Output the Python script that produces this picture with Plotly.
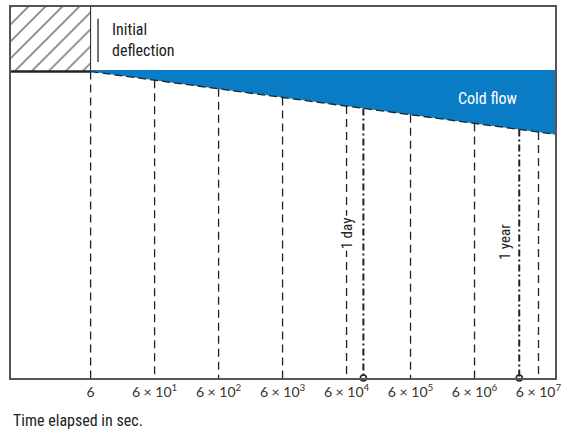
import numpy as np
import plotly.graph_objects as go

# ---- data ----
tick_values = [6, 6e1, 6e2, 6e3, 6e4, 6e5, 6e6, 6e7]
tick_labels = ["6", "6 × 10<sup>1</sup>", "6 × 10<sup>2</sup>", "6 × 10<sup>3</sup>",
               "6 × 10<sup>4</sup>", "6 × 10<sup>5</sup>", "6 × 10<sup>6</sup>", "6 × 10<sup>7</sup>"]
x_range_log = [-0.466, 8.036]          # axis range, log10 seconds
initial_deflection = 82.6               # level of initial deflection (arbitrary units, top = 100)
flow_time = [6, 10 ** 8.036]            # cold-flow band extent
flow_top = [83.0, 83.0]
flow_bottom = [82.6, 65.7]
event_times = [1.1e5, 3.0e7]            # 1 day, 1 year (as drawn)
event_labels = ["1 day", "1 year"]

FONT = "Liberation Sans Narrow, Roboto Condensed, DejaVu Sans Condensed, Arial, sans-serif"
BLUE = "#0a7cc6"
INK = "#222222"

def top_at(t):
    return np.interp(np.log10(t), np.log10(flow_time), flow_bottom)

fig = go.Figure()

x_left = 10 ** x_range_log[0]
# hatched initial-deflection block
fig.add_trace(go.Scatter(
    x=[x_left, tick_values[0], tick_values[0], x_left, x_left],
    y=[initial_deflection, initial_deflection, 100, 100, initial_deflection],
    mode="lines", fill="toself", fillcolor="rgba(0,0,0,0)",
    fillpattern=dict(shape="/", fgcolor="#1a1a1a", bgcolor="white", size=12, solidity=0.16),
    line=dict(width=0), hoverinfo="skip", showlegend=False))
fig.add_trace(go.Scatter(x=[tick_values[0], tick_values[0]], y=[initial_deflection, 100],
                         mode="lines", line=dict(color=INK, width=1), showlegend=False))
fig.add_trace(go.Scatter(x=[x_left, tick_values[0]], y=[initial_deflection, initial_deflection],
                         mode="lines", line=dict(color=INK, width=2.6), showlegend=False))

# cold flow band
fig.add_trace(go.Scatter(
    x=[flow_time[0], flow_time[1], flow_time[1], flow_time[0], flow_time[0]],
    y=[flow_top[0], flow_top[1], flow_bottom[1], flow_bottom[0], flow_top[0]],
    mode="lines", fill="toself", fillcolor=BLUE, line=dict(width=0),
    hoverinfo="skip", showlegend=False))
fig.add_trace(go.Scatter(x=flow_time, y=flow_bottom, mode="lines",
                         line=dict(color=INK, width=1.3, dash="8px,4px"), showlegend=False))

# dashed decade lines
xs, ys = [], []
for t in tick_values:
    xs += [t, t, None]
    ys += [float(top_at(t)), 0, None]
fig.add_trace(go.Scatter(x=xs, y=ys, mode="lines",
                         line=dict(color=INK, width=1.3, dash="8px,5px"), showlegend=False))

# 1 day / 1 year lines
xs, ys = [], []
for t in event_times:
    xs += [t, t, None]
    ys += [float(top_at(t)), 0, None]
fig.add_trace(go.Scatter(x=xs, y=ys, mode="lines",
                         line=dict(color=INK, width=2, dash="7px,3px,2px,3px"), showlegend=False))
fig.add_trace(go.Scatter(x=event_times, y=[0, 0], mode="markers", cliponaxis=False,
                         marker=dict(symbol="circle-open", size=6, color=INK, line=dict(width=1.6)),
                         showlegend=False))

annotations = [
    dict(text="Initial<br>deflection", xref="paper", yref="y", x=0.182, y=97,
         xanchor="left", yanchor="top", align="left", showarrow=False,
         font=dict(family=FONT, size=16, color="#222")),
    dict(text="Cold flow", xref="paper", yref="y", x=0.875, y=75.3,
         xanchor="center", yanchor="middle", showarrow=False,
         font=dict(family=FONT, size=16, color="white")),
    dict(text=event_labels[0], xref="x", yref="y", x=np.log10(tick_values[4]), y=38.9,
         textangle=-90, showarrow=False, bgcolor="white",
         font=dict(family=FONT, size=15, color="#222")),
    dict(text=event_labels[1], xref="x", yref="y", x=np.log10(event_times[1]), y=36.7, xshift=-14,
         textangle=-90, showarrow=False,
         font=dict(family=FONT, size=15, color="#222")),
    dict(text="Time elapsed in sec.", xref="paper", yref="paper", x=0, y=-0.115,
         xanchor="left", yanchor="middle", showarrow=False,
         font=dict(family=FONT, size=16, color="#222")),
]

shapes = [dict(type="line", xref="paper", yref="y", x0=0.16, x1=0.16, y0=85.2, y1=96.8,
               line=dict(color="#444", width=1.5))]

fig.update_layout(
    width=575, height=430,
    margin=dict(l=11, r=20, t=5, b=52),
    paper_bgcolor="white", plot_bgcolor="white",
    annotations=annotations, shapes=shapes,
    xaxis=dict(type="log", range=x_range_log, tickvals=tick_values, ticktext=tick_labels,
               ticks="", showgrid=False, zeroline=False, showline=True, mirror=True,
               linecolor="#555", linewidth=1.5,
               tickfont=dict(family="Lato, sans-serif", size=14, color="#333")),
    yaxis=dict(range=[0, 100], showticklabels=False, ticks="", showgrid=False, zeroline=False,
               showline=True, mirror=True, linecolor="#555", linewidth=1.5),
)

fig.write_html("out.html", config={"displayModeBar": False},
               post_script="document.body.style.margin='0';document.body.style.overflow='hidden';")
